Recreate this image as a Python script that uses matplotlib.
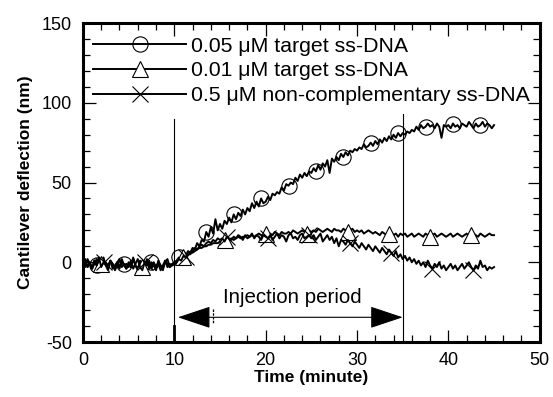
import matplotlib
matplotlib.use("Agg")
import matplotlib.pyplot as plt
import numpy as np

plt.rcParams['font.family'] = ['Liberation Sans', 'DejaVu Sans']
plt.rcParams['axes.unicode_minus'] = False

# time grid (minutes), one sample every 0.25 min
t = np.arange(0, 45.01, 0.25)

# 0.05 uM target ss-DNA (nm)
c05 = [-1, 2, -3, 0, -4, 1, -2, -5, 0, 3, -2, -4, 1, -1, -5, -2, 2, -3, -1, -4,
       0, -3, 3, -2, -5, 1, -1, -4, 2, -3, 0, -2, -5, 1, -2, -4, 0, 2, -3, -1,
       0, 1, 3, 2, 5, 4, 7, 6, 9, 8, 12, 10, 14, 13, 19, 16, 22, 18, 27, 20,
       24, 21, 26, 24, 28, 25, 30, 27, 31, 29, 33, 30, 34, 32, 37, 34, 38, 35, 40, 37,
       38, 41, 39, 43, 42, 44, 43, 47, 45, 49, 48, 50, 49, 53, 51, 55, 53, 56, 54, 57,
       56, 59, 57, 61, 58, 62, 60, 64, 56, 65, 63, 66, 64, 68, 66, 69, 67, 70, 69, 71,
       70, 72, 71, 74, 72, 73, 75, 73, 76, 74, 77, 75, 78, 76, 79, 77, 80, 78, 81, 79,
       81, 80, 82, 81, 83, 82, 85, 83, 86, 84, 85, 87, 85, 86, 84, 87, 85, 78, 86, 85,
       86, 84, 87, 85, 86, 84, 87, 86, 85, 88, 86, 84, 87, 85, 86, 88, 85, 87, 86, 84,
       86]

# 0.01 uM target ss-DNA (nm)
c01 = [-2, 1, -3, 0, -4, -1, 2, -3, -1, -5, 0, -2, 1, -4, -2, 0, -3, 1, -2, -4,
       -1, -3, 2, -2, -4, 0, -3, -1, 1, -4, -2, 0, -3, -1, -5, -2, 1, -3, -1, -2,
       -1, 0, 1, 2, 3, 4, 5, 6, 6, 7, 8, 9, 9, 10, 10, 11, 11, 12, 12, 12,
       13, 13, 14, 13, 14, 15, 14, 15, 16, 15, 16, 16, 17, 16, 17, 16, 17, 18, 17, 17,
       18, 17, 18, 17, 19, 18, 17, 19, 18, 18, 19, 18, 20, 19, 18, 19, 20, 19, 18, 20,
       19, 20, 19, 21, 20, 19, 20, 21, 20, 19, 21, 20, 20, 19, 21, 20, 19, 20, 21, 19,
       20, 19, 20, 18, 19, 20, 19, 18, 19, 18, 17, 19, 18, 17, 18, 19, 17, 18, 16, 18,
       17, 18, 16, 17, 18, 16, 17, 18, 17, 16, 18, 17, 16, 17, 18, 16, 17, 18, 17, 16,
       17, 18, 16, 17, 18, 17, 16, 17, 18, 16, 17, 18, 17, 16, 18, 17, 16, 17, 18, 17,
       17]

# 0.5 uM non-complementary ss-DNA (nm)
nc = [0, -3, 2, -1, -4, 1, -2, 3, -3, 0, -2, -5, 1, -1, -3, 0, -4, 2, -2, -1,
      -3, 1, -4, -1, 2, -3, -5, 0, -2, 1, -4, -1, -3, 0, -2, -5, 1, -1, -3, -2,
      -1, 0, 2, 1, 4, 3, 6, 5, 7, 9, 8, 10, 11, 10, 12, 13, 12, 14, 13, 15,
      14, 15, 13, 16, 15, 14, 16, 15, 17, 16, 14, 17, 15, 16, 18, 15, 17, 16, 14, 17,
      16, 15, 17, 14, 16, 18, 15, 17, 16, 13, 17, 18, 15, 16, 14, 17, 18, 15, 16, 17,
      15, 17, 14, 16, 18, 13, 15, 17, 14, 16, 12, 15, 10, 14, 13, 11, 14, 12, 10, 13,
      11, 9, 12, 10, 8, 11, 9, 7, 10, 8, 6, 9, 7, 5, 8, 6, 4, 7, 3, 5,
      2, 4, 1, 3, 0, 2, -1, 1, -2, 0, -3, 1, -2, -4, -1, -3, 0, -4, -2, -5,
      -3, -1, -4, -2, -5, -3, -1, -4, -2, 0, -3, -5, -2, -4, 1, -3, -2, -5, -3, -4,
      -3]

labels = ["0.05 \u03bcM target ss-DNA",
          "0.01 \u03bcM target ss-DNA",
          "0.5 \u03bcM non-complementary ss-DNA"]

inj_start, inj_end = 10, 35

fig = plt.figure(figsize=(5.53, 3.97), dpi=100)
ax = fig.add_axes([0.150, 0.1385, 0.826, 0.8035])

ax.plot(t, c05, color='black', lw=1.4, marker='o', ms=11, mfc='none', mew=0.8,
        markevery=(6, 12), label=labels[0])
ax.plot(t, c01, color='black', lw=1.4, marker='^', ms=11, mfc='white', mew=0.8,
        markevery=(8, 18), label=labels[1])
ax.plot(t, nc, color='black', lw=1.4, marker='x', ms=11, mew=0.8,
        markevery=(9, 18), label=labels[2])

# injection markers
ax.plot([inj_start, inj_start], [-50, 90], color='black', lw=0.8)
ax.plot([inj_end, inj_end], [-50, 93], color='black', lw=0.8)
ax.plot([inj_start, inj_start], [-50, -40], color='black', lw=2)
ax.plot([14.2, 14.2], [-29, -39], color='black', lw=0.9, ls=(0, (2, 1)))
ax.annotate('', xy=(inj_start + 0.4, -34.5), xytext=(inj_end, -34.5),
            arrowprops=dict(arrowstyle='<|-|>,head_length=2.1,head_width=0.7',
                            mutation_scale=10, color='black', lw=0.8,
                            shrinkA=0, shrinkB=0))
ax.text(22.9, -22, 'Injection period', ha='center', va='center', fontsize=14.8)

ax.set_xlim(0, 50)
ax.set_ylim(-50, 150)
ax.set_xticks(np.arange(0, 51, 10))
ax.set_yticks(np.arange(-50, 151, 50))
ax.set_xticks(np.arange(0, 51, 2), minor=True)
ax.set_yticks(np.arange(-50, 151, 10), minor=True)
ax.tick_params(which='both', direction='in', top=True, right=True,
               labelsize=13, width=0.9)
ax.tick_params(which='major', length=9)
ax.tick_params(which='minor', length=5)
ax.tick_params(axis='y', pad=8)
ax.tick_params(axis='x', pad=7)
for s in ax.spines.values():
    s.set_linewidth(2.2)

ax.set_xlabel('Time (minute)', fontsize=12.5, fontweight='bold', labelpad=1)
ax.set_ylabel('Cantilever deflection (nm)', fontsize=12.5, fontweight='bold',
              labelpad=6)

leg = ax.legend(loc='upper left', bbox_to_anchor=(0.022, 0.957), frameon=False,
                fontsize=15.3, handlelength=4.4, handletextpad=0.2,
                labelspacing=0.27, borderaxespad=0, borderpad=0, markerscale=1.0)

fig.savefig('out.png', dpi=100)
